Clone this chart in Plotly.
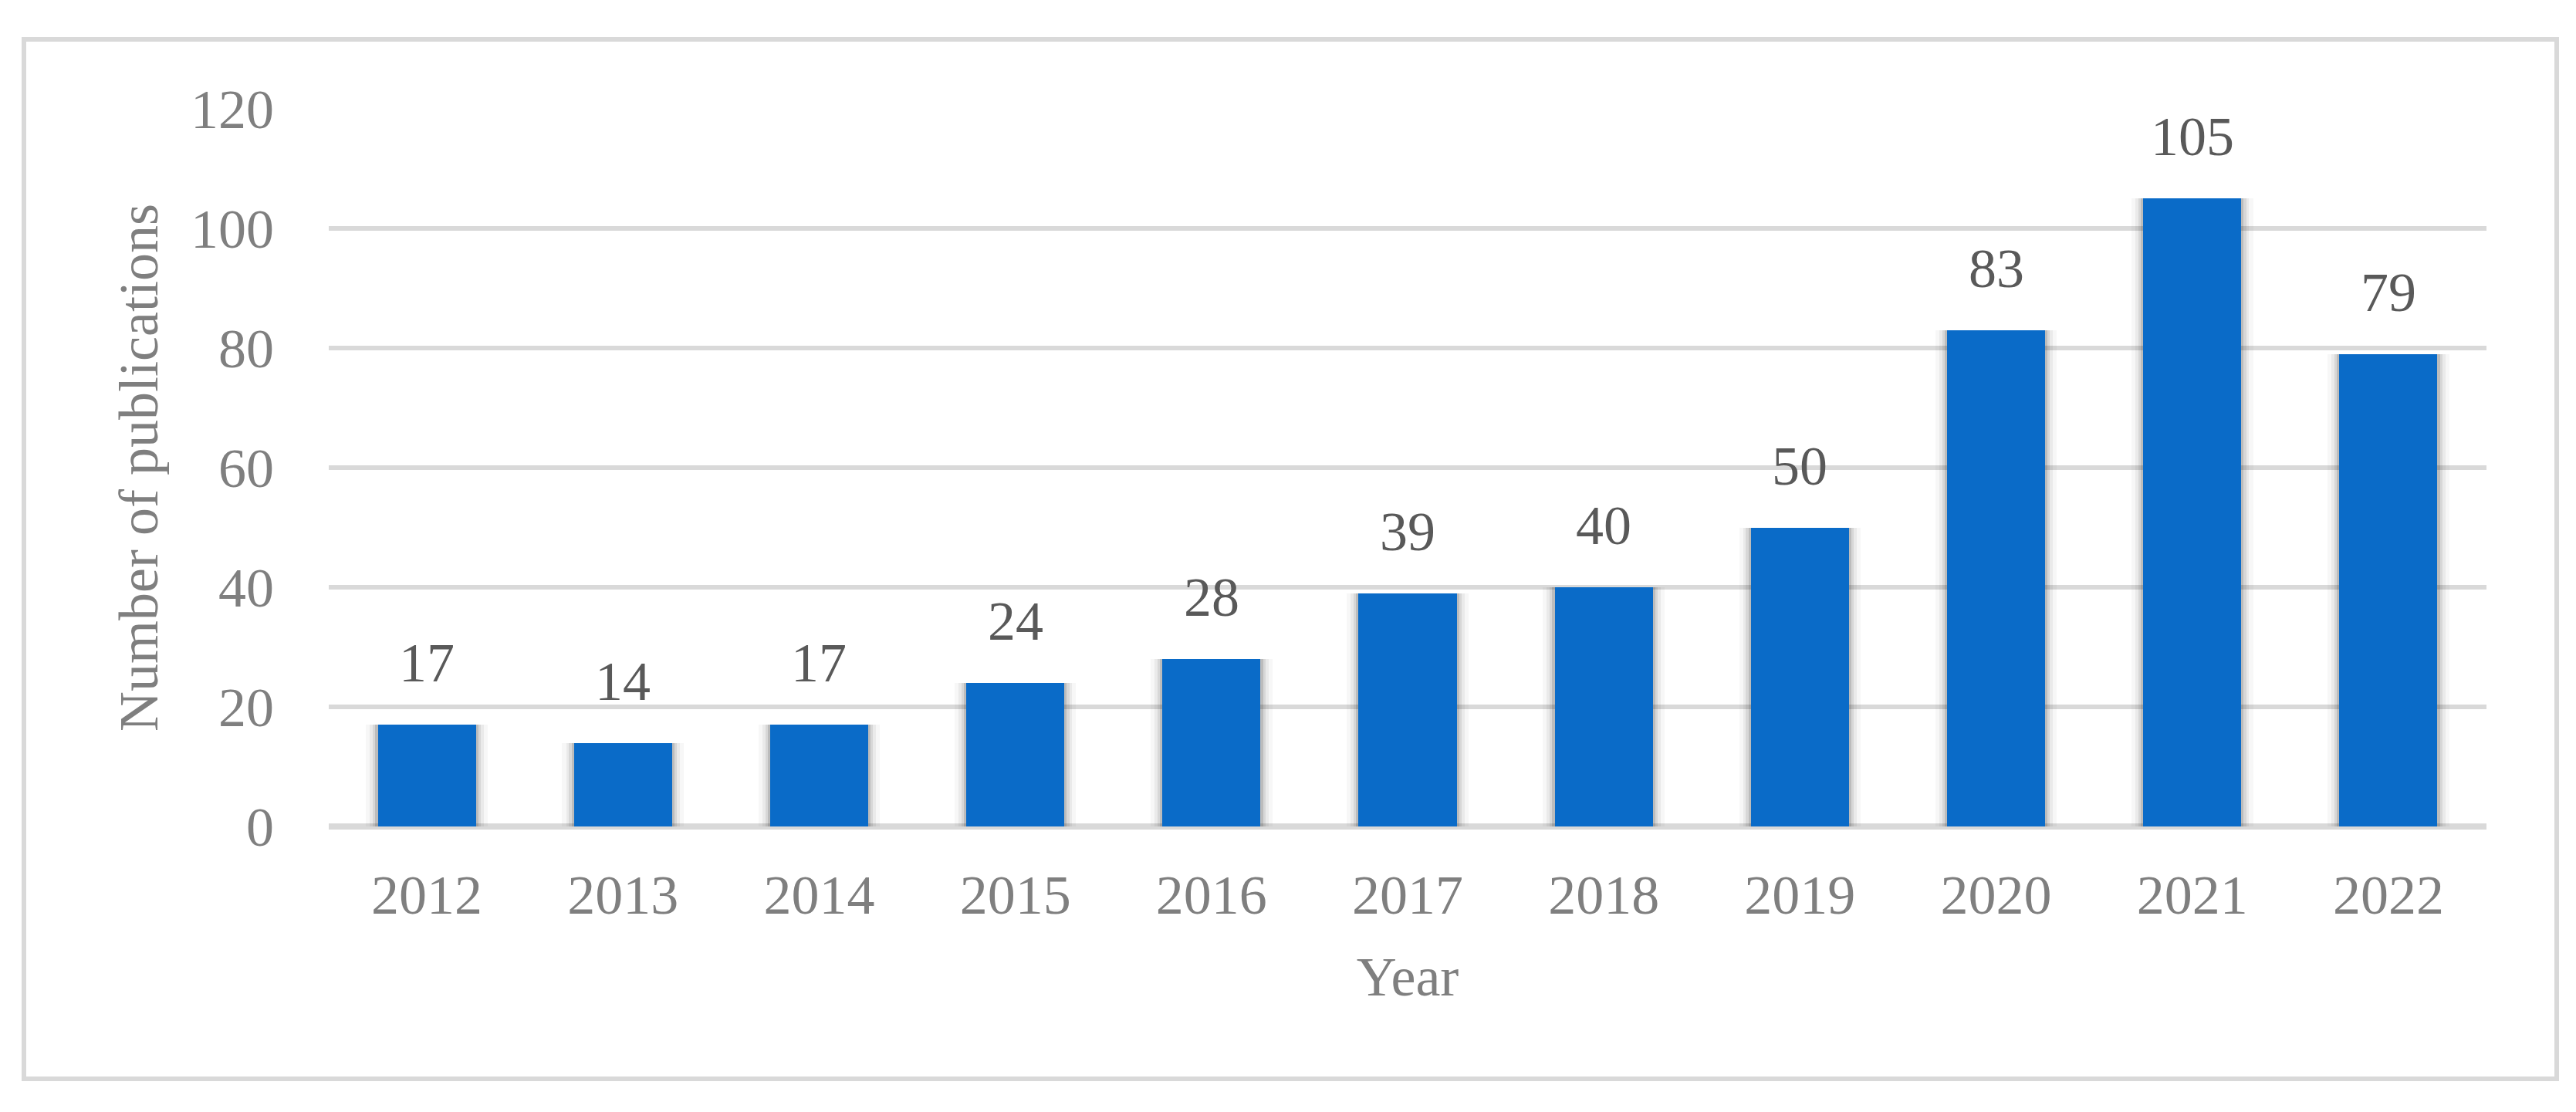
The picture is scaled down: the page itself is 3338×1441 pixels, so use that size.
import plotly.graph_objects as go

# ---- data ----
years = [2012, 2013, 2014, 2015, 2016, 2017, 2018, 2019, 2020, 2021, 2022]
publications = [17, 14, 17, 24, 28, 39, 40, 50, 83, 105, 79]
y_tick_values = [0, 20, 40, 60, 80, 100, 120]
x_title = "Year"
y_title = "Number of publications"

# ---- layout geometry (pixels) ----
W, H = 3338, 1441
L, R, T, B = 418, 124, 133, 378
PW, PH = W - L - R, H - T - B

FONT = "Liberation Serif, Times New Roman, serif"
TICK_COLOR = "#7f7f7f"
LABEL_COLOR = "#595959"
GRID_COLOR = "#d9d9d9"
BAR_COLOR = "#0a6bc8"

fig = go.Figure()

# soft shadow behind bars
for w, op in [(0.62, 0.03), (0.58, 0.05), (0.55, 0.08), (0.525, 0.12)]:
    fig.add_trace(go.Bar(
        x=years, y=publications, width=w,
        marker=dict(color=f"rgba(0,0,0,{op})", line=dict(width=0)),
        hoverinfo="skip", showlegend=False,
    ))

fig.add_trace(go.Bar(
    x=years, y=publications, width=0.5,
    marker=dict(color=BAR_COLOR, line=dict(width=0)),
    showlegend=False,
))

for yr, v in zip(years, publications):
    fig.add_annotation(
        x=yr, y=v, text=str(v), showarrow=False,
        yanchor="bottom", yshift=38,
        font=dict(family=FONT, size=72, color=LABEL_COLOR),
    )

def px_to_paper_x(px):
    return (px - L) / PW

def px_to_paper_y(py):
    return (H - B - py) / PH

fig.add_shape(
    type="rect", xref="paper", yref="paper",
    x0=px_to_paper_x(23), x1=px_to_paper_x(3305),
    y0=px_to_paper_y(1390), y1=px_to_paper_y(43),
    line=dict(color=GRID_COLOR, width=6), fillcolor="rgba(0,0,0,0)",
    layer="below",
)

fig.update_layout(
    width=W, height=H,
    margin=dict(l=L, r=R, t=T, b=B, autoexpand=False),
    paper_bgcolor="white", plot_bgcolor="white",
    barmode="overlay", bargap=0,
    font=dict(family=FONT, size=72, color=TICK_COLOR),
    xaxis=dict(
        type="linear", range=[years[0] - 0.5, years[-1] + 0.5],
        tickmode="array", tickvals=years, ticktext=[str(y) for y in years],
        showgrid=False, showline=False, zeroline=False,
        ticks="", tickfont=dict(family=FONT, size=72, color=TICK_COLOR),
        ticklabelstandoff=40,
        title=dict(text=x_title, font=dict(family=FONT, size=72, color=TICK_COLOR), standoff=40),
    ),
    yaxis=dict(
        range=[0, 120], tickmode="array", tickvals=y_tick_values,
        showgrid=True, gridcolor=GRID_COLOR, gridwidth=6,
        zeroline=True, zerolinecolor=GRID_COLOR, zerolinewidth=8,
        showline=False, ticks="",
        tickfont=dict(family=FONT, size=72, color=TICK_COLOR),
        ticklabelstandoff=70,
        title=dict(text=y_title, font=dict(family=FONT, size=72, color=TICK_COLOR), standoff=18),
    ),
)

fig.write_html("out.html")
